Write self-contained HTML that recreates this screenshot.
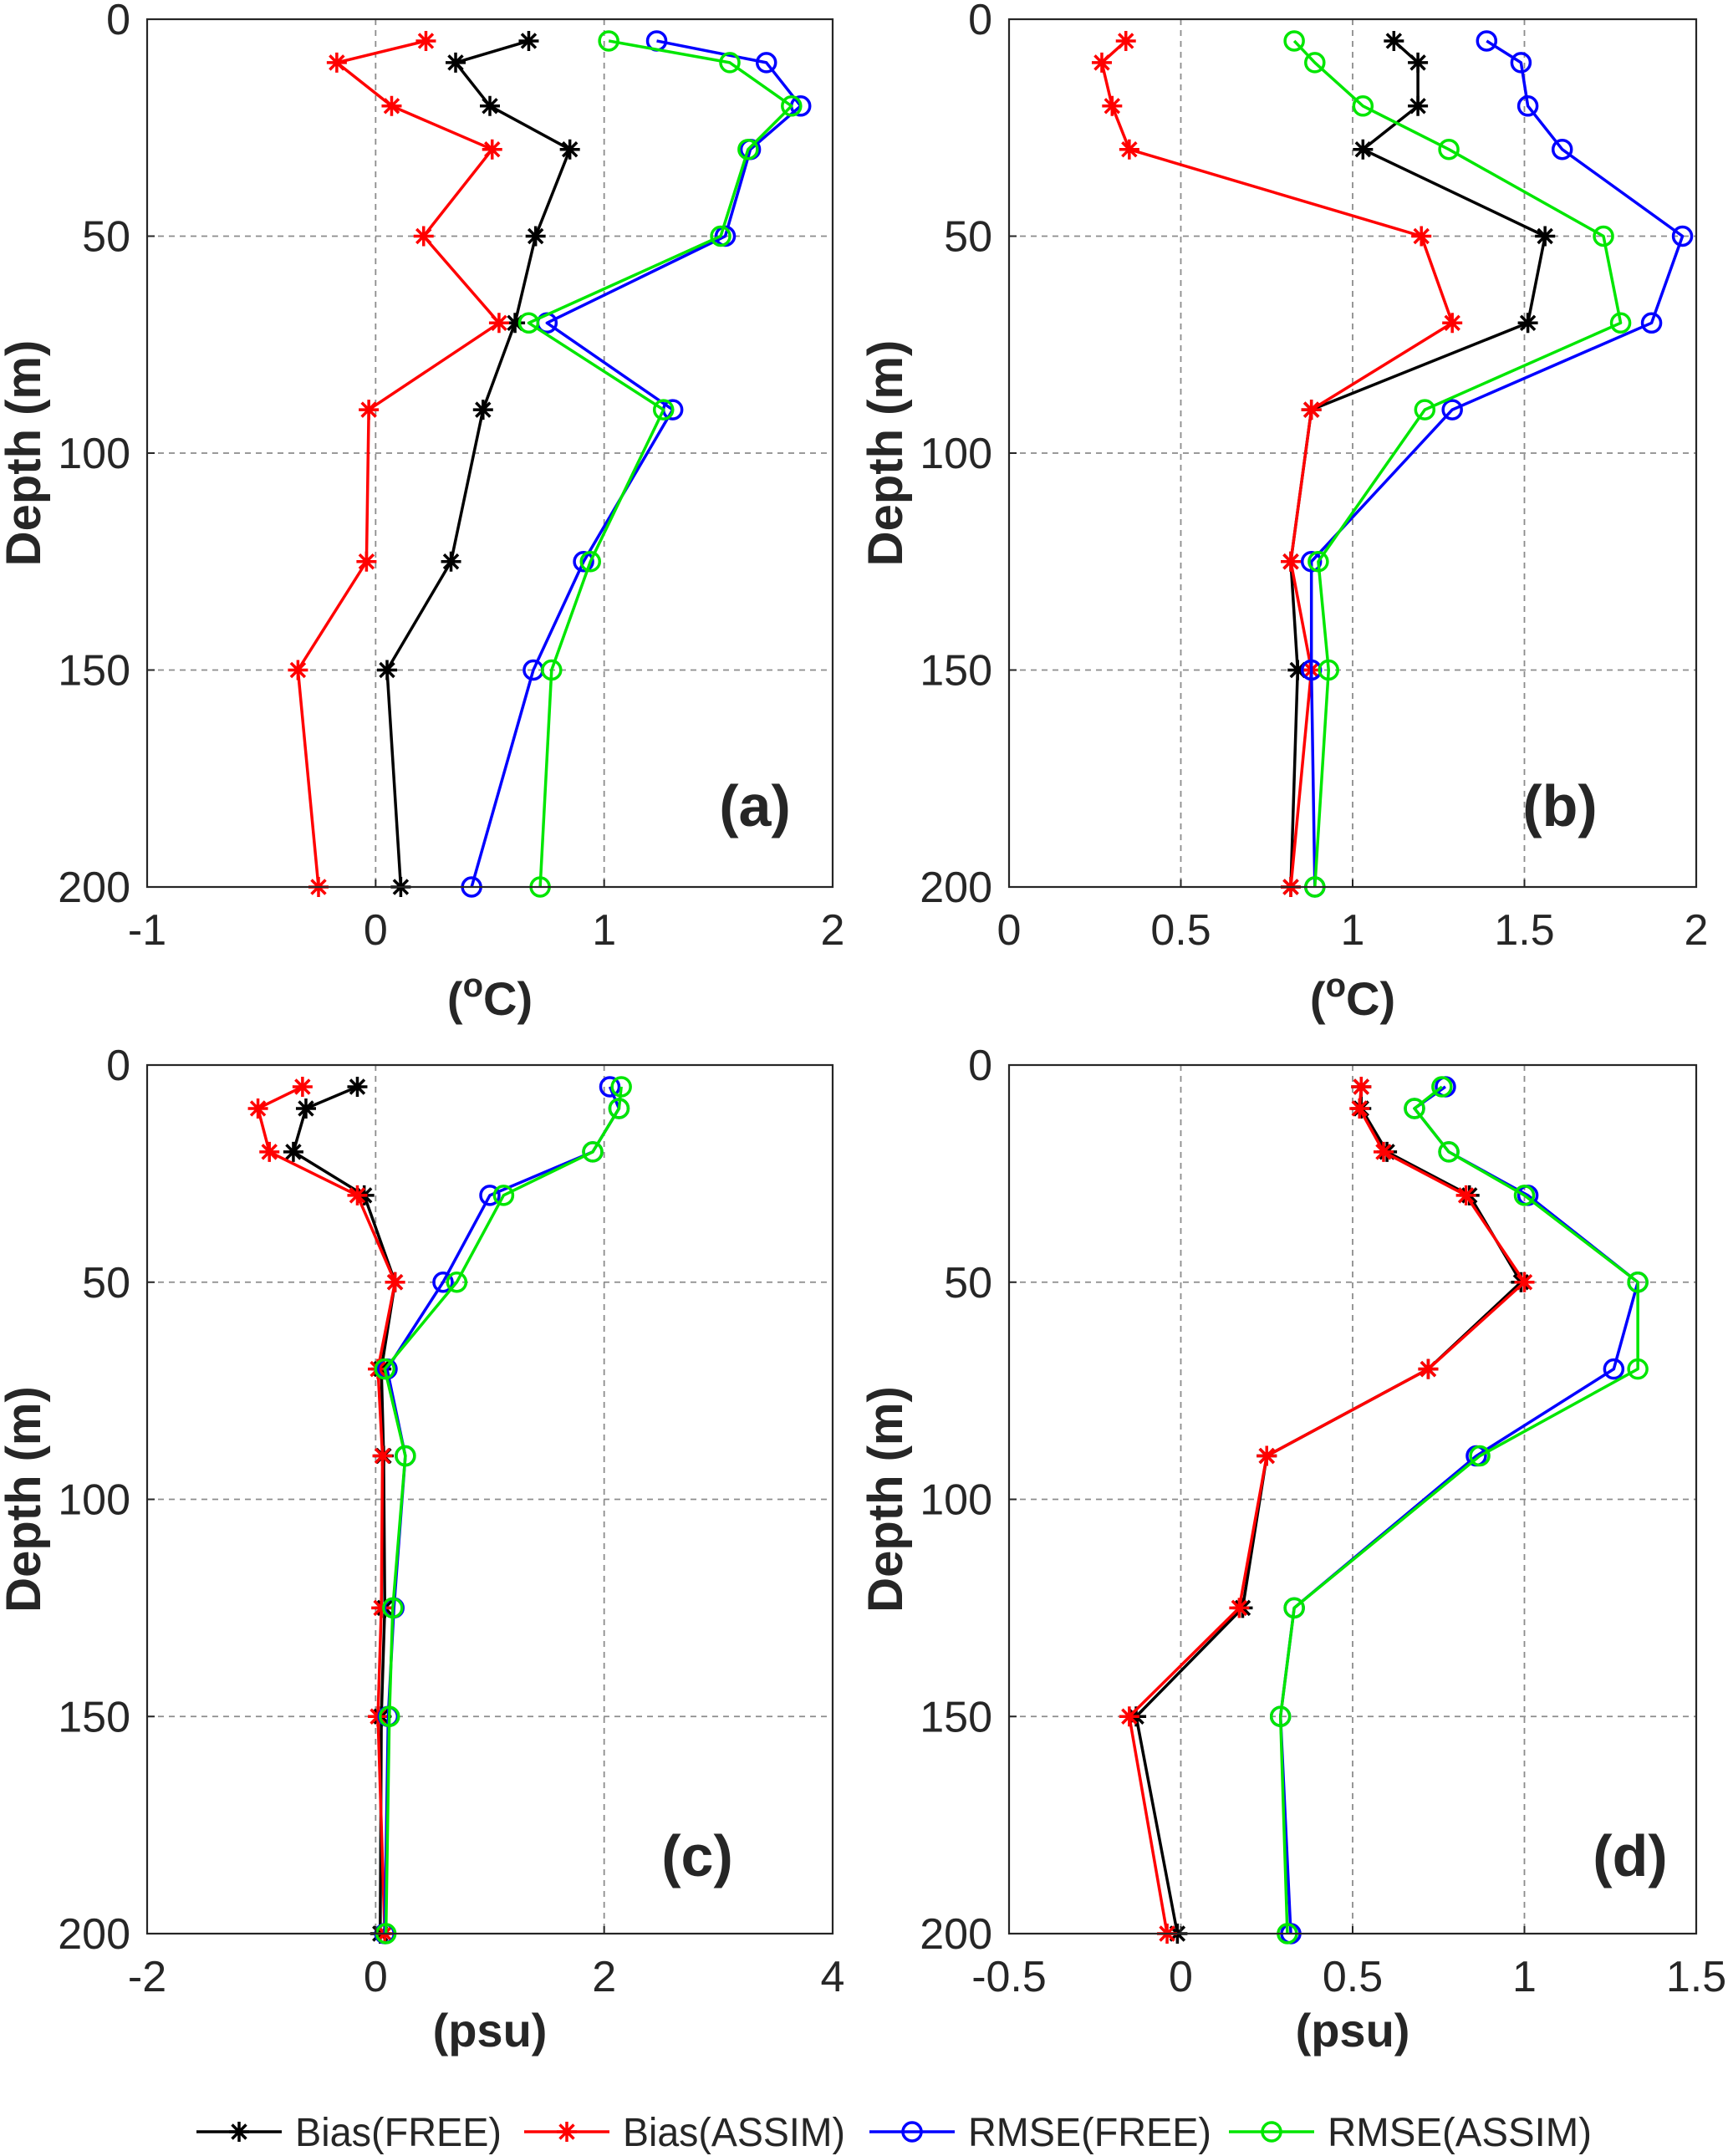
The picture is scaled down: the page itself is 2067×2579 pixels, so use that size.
<!DOCTYPE html>
<html><head><meta charset="utf-8"><style>
html,body{margin:0;padding:0;background:#fff}
svg{display:block}
text{font-family:"Liberation Sans",sans-serif;fill:#262626}
</style></head><body>
<svg id="chart" width="2067" height="2579" viewBox="0 0 2067 2579" xmlns="http://www.w3.org/2000/svg"></svg>
<script>
const depths = [5,10,20,30,50,70,90,125,150,200];
const aBiasFree  = [0.67,0.35,0.50,0.85,0.70,0.61,0.47,0.33,0.05,0.11];
const aBiasAssim = [0.22,-0.17,0.07,0.51,0.21,0.54,-0.03,-0.04,-0.34,-0.25];
const aRmseFree  = [1.23,1.71,1.86,1.64,1.53,0.75,1.30,0.91,0.69,0.42];
const aRmseAssim = [1.02,1.55,1.82,1.63,1.51,0.67,1.26,0.94,0.77,0.72];
const bBiasFree  = [1.12,1.19,1.19,1.03,1.56,1.51,0.88,0.82,0.84,0.82];
const bBiasAssim = [0.34,0.27,0.30,0.35,1.20,1.29,0.88,0.82,0.88,0.82];
const bRmseFree  = [1.39,1.49,1.51,1.61,1.96,1.87,1.29,0.88,0.88,0.89];
const bRmseAssim = [0.83,0.89,1.03,1.28,1.73,1.78,1.21,0.90,0.93,0.89];
const cBiasFree  = [-0.16,-0.61,-0.72,-0.10,0.17,0.05,0.07,0.08,0.05,0.04];
const cBiasAssim = [-0.64,-1.03,-0.93,-0.16,0.17,0.02,0.06,0.05,0.02,0.08];
const cRmseFree  = [2.05,2.13,1.90,1.00,0.59,0.10,0.26,0.16,0.11,0.08];
const cRmseAssim = [2.15,2.13,1.90,1.12,0.71,0.08,0.26,0.15,0.12,0.09];
const dBiasFree  = [0.525,0.525,0.60,0.84,0.99,0.72,0.25,0.18,-0.13,-0.01];
const dBiasAssim = [0.525,0.52,0.59,0.83,1.00,0.72,0.25,0.17,-0.15,-0.04];
const dRmseFree  = [0.77,0.68,0.78,1.01,1.33,1.26,0.86,0.33,0.29,0.32];
const dRmseAssim = [0.76,0.68,0.78,1.00,1.33,1.33,0.87,0.33,0.29,0.31];
const aTicks = [-1,0,1,2];
const bTicks = [0,0.5,1,1.5,2];
const cTicks = [-2,0,2,4];
const dTicks = [-0.5,0,0.5,1,1.5];
const yTicks = [0,50,100,150,200];
const seriesNames = ["Bias(FREE)","Bias(ASSIM)","RMSE(FREE)","RMSE(ASSIM)"];

const NS = "http://www.w3.org/2000/svg";
const svg = document.getElementById('chart');
function mk(tag, attrs, parent){
  const e = document.createElementNS(NS, tag);
  for (const k in attrs) e.setAttribute(k, attrs[k]);
  (parent||svg).appendChild(e);
  return e;
}
const colors = ["#000000","#ff0000","#0000ff","#00e600"];
const markers = ["star","star","circle","circle"];

function star(g, x, y, col){
  const r = 12;
  let d = "";
  for (let i=0;i<4;i++){
    const a = i*Math.PI/4;
    d += `M${x-r*Math.cos(a)},${y-r*Math.sin(a)}L${x+r*Math.cos(a)},${y+r*Math.sin(a)}`;
  }
  const p = mk('path',{d:d,stroke:col,'stroke-width':3.5,fill:'none'},g);
  
  
}
function circ(g, x, y, col){
  const c = mk('circle',{cx:x,cy:y,r:11,stroke:col,'stroke-width':3.5,fill:'none'},g);
  
  
}

function panel(id, x0, y0, w, h, xmin, xmax, ticks, series, label, lx, ly, unit){
  const g = mk('g',{});
  
  
  const sx = v => x0 + (v - xmin)/(xmax - xmin)*w;
  const sy = v => y0 + v/200*h;
  ticks.forEach(t=>{
    if (t>xmin && t<xmax){
      const l = mk('line',{x1:sx(t),x2:sx(t),y1:y0,y2:y0+h,stroke:'#8c8c8c','stroke-width':1.8,'stroke-dasharray':'7,6'},g);
      
      
    }
  });
  yTicks.forEach(t=>{
    if (t>0 && t<200){
      const l = mk('line',{x1:x0,x2:x0+w,y1:sy(t),y2:sy(t),stroke:'#8c8c8c','stroke-width':1.8,'stroke-dasharray':'7,6'},g);
      
      
    }
  });
  series.forEach((vals, si)=>{
    const pts = vals.map((v,i)=>sx(v)+','+sy(depths[i])).join(' ');
    const pl = mk('polyline',{points:pts,fill:'none',stroke:colors[si],'stroke-width':3.5,'stroke-linejoin':'round'},g);
    
    
    vals.forEach((v,i)=>{
      if (markers[si]==='star') star(g, sx(v), sy(depths[i]), colors[si]);
      else circ(g, sx(v), sy(depths[i]), colors[si]);
    });
  });
  const b = mk('rect',{x:x0,y:y0,width:w,height:h,fill:'none',stroke:'#262626','stroke-width':2.2},g);
  
  
  ticks.forEach(t=>{
    const m1 = mk('line',{x1:sx(t),x2:sx(t),y1:y0+h,y2:y0+h-9,stroke:'#262626','stroke-width':2},g);
    
    
    const tx = mk('text',{x:sx(t),y:y0+h+69,'font-size':52,'text-anchor':'middle'},g);
    tx.textContent = String(t);
    
    
  });
  yTicks.forEach(t=>{
    const m1 = mk('line',{x1:x0,x2:x0+9,y1:sy(t),y2:sy(t),stroke:'#262626','stroke-width':2},g);
    
    
    const tx = mk('text',{x:x0-20,y:sy(t)+18,'font-size':52,'text-anchor':'end'},g);
    tx.textContent = String(t);
    
    
  });
  const yt = mk('text',{x:0,y:0,'font-size':58,'font-weight':'bold','text-anchor':'middle',transform:`translate(${x0-128},${y0+h/2}) rotate(-90)`},g);
  yt.textContent = 'Depth (m)';
  
  
  const xt = mk('text',{x:x0+w/2,y:y0+h+(unit==='C'?153:135),'font-size':56,'font-weight':'bold','text-anchor':'middle'},g);
  if (unit==='C'){
    xt.innerHTML = '(<tspan dy="-22" font-size="40">o</tspan><tspan dy="22">C)</tspan>';
  } else {
    xt.textContent = '(psu)';
  }
  
  
  const pl = mk('text',{x:lx,y:ly,'font-size':70,'font-weight':'bold','text-anchor':'middle',fill:'#000'},g);
  pl.textContent = label;
  
  
}

panel('a',176,23,820,1038,-1,2,aTicks,[aBiasFree,aBiasAssim,aRmseFree,aRmseAssim],'(a)',903,988,'C');
panel('b',1207,23,822,1038,0,2,bTicks,[bBiasFree,bBiasAssim,bRmseFree,bRmseAssim],'(b)',1866,988,'C');
panel('c',176,1274,820,1039,-2,4,cTicks,[cBiasFree,cBiasAssim,cRmseFree,cRmseAssim],'(c)',834,2244,'psu');
panel('d',1207,1274,822,1039,-0.5,1.5,dTicks,[dBiasFree,dBiasAssim,dRmseFree,dRmseAssim],'(d)',1950,2244,'psu');

const lg = mk('g',{});


const legX = [235,627,1040,1470];
const legTextW = [247,266,291,316];
const ly = 2550;
seriesNames.forEach((n,i)=>{
  const eg = mk('g',{},lg);
  
  
  const l = mk('line',{x1:legX[i],x2:legX[i]+102,y1:ly,y2:ly,stroke:colors[i],'stroke-width':3.5},eg);
  
  
  if (markers[i]==='star') star(eg, legX[i]+51, ly, colors[i]); else circ(eg, legX[i]+51, ly, colors[i]);
  const t = mk('text',{x:legX[i]+118,y:ly+17,'font-size':48,fill:'#000',textLength:legTextW[i],lengthAdjust:'spacingAndGlyphs'},eg);
  t.textContent = n;
  
  
});
</script>
</body></html>
